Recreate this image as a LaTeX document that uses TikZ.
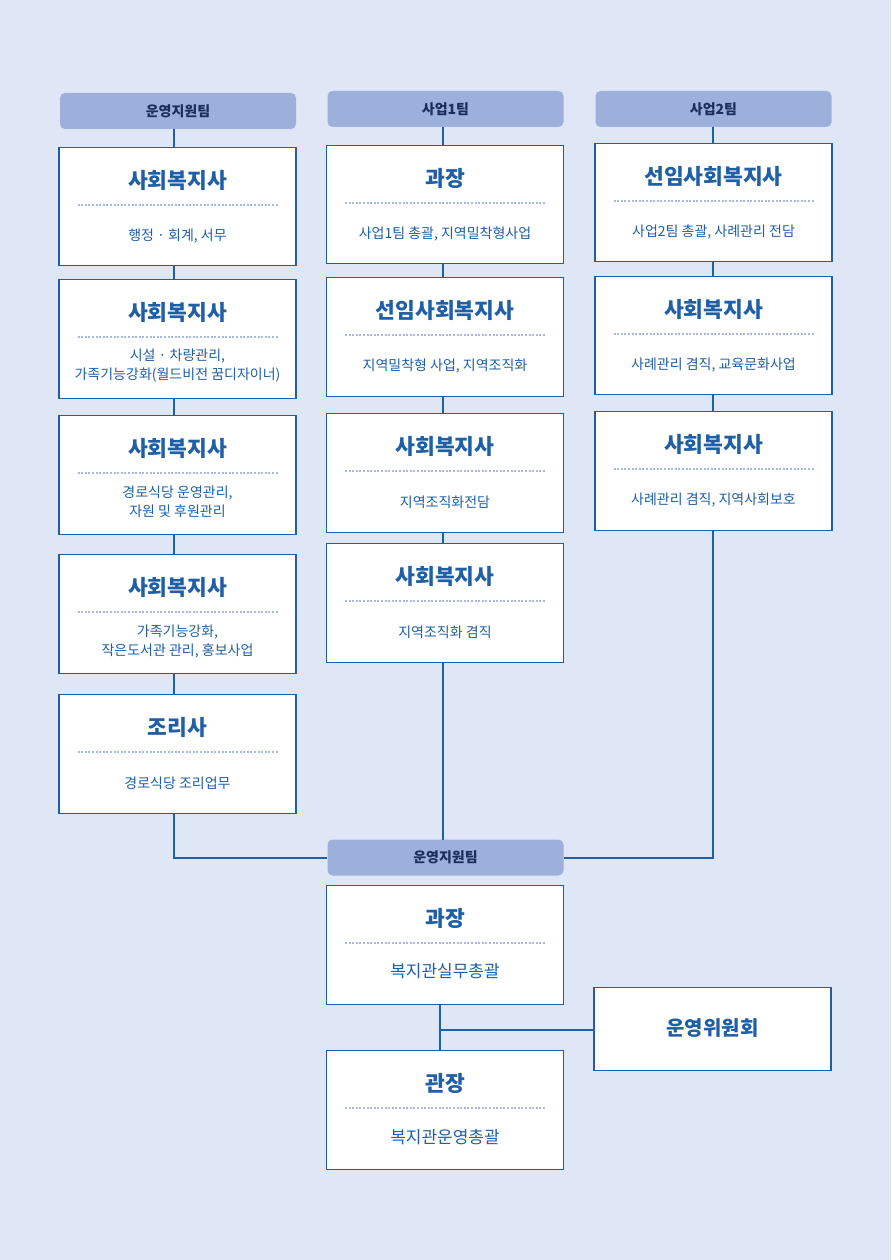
\documentclass[tikz,border=0pt]{standalone}
\usepackage{fontspec}
\setmainfont{Noto Sans CJK KR}
\definecolor{bg}{HTML}{DFE7F7}
\definecolor{hd}{HTML}{9CB0DB}
\definecolor{hdt}{HTML}{1B2F5E}
\definecolor{bl}{HTML}{1F5FA6}
\definecolor{dt}{HTML}{A8B8E0}
\tikzset{
 box/.style={draw=bl,line width=1.2pt,fill=white,minimum width=237pt,minimum height=118pt,inner sep=0,anchor=north},
 hdr/.style={fill=hd,rounded corners=5pt,minimum width=236pt,minimum height=36pt,inner sep=0,font=\bfseries\fontsize{14}{16}\selectfont,text=hdt},
 ttl/.style={text=bl,font=\bfseries\fontsize{21.5}{24}\selectfont},
 txt/.style={text=bl,font=\fontsize{14}{19}\selectfont,align=center},
 dots/.style={dt,line width=2pt,dash pattern=on 2pt off 1.6pt},
 ln/.style={bl,line width=2pt}
}
\newcommand\obox[6]{%
 \node[box,minimum height=#4pt] (#1) at (#2,#3) {};
 \node[ttl] (#1t) at (#2,#3+33) {#5};
 \draw[dots] ([xshift=-100pt,yshift=-58pt]#1.north) -- ([xshift=100pt,yshift=-58pt]#1.north);
 \node[txt] (#1x) at (#2,#3+89) {#6};}
\begin{document}
\begin{tikzpicture}[x=1pt,y=-1pt]
\fill[bg] (0,0) rectangle (891,1260);
\useasboundingbox (0,0) rectangle (891,1260);
% headers
\node[hdr] (h1) at (178,111) {운영지원팀};
\node[hdr] (h2) at (445.5,109) {사업1팀};
\node[hdr] (h3) at (713.5,109) {사업2팀};
\node[hdr] (h4) at (445.5,857.5) {운영지원팀};
% connectors behind boxes
\draw[ln] (174,129) -- (174,857.5) -- (h4.west);
\draw[ln] (443,127) -- (443,840);
\draw[ln] (713,127) -- (713,857.5) -- (h4.east);
\draw[ln] (440,1004) -- (440,1050);
\draw[ln] (440,1030) -- (594,1030);
% left
\obox{l1}{177.5}{147}{118}{사회복지사}{행정 · 회계, 서무}
\obox{l2}{177.5}{279}{119}{사회복지사}{}
\node[txt] at (177.5,366) {시설 · 차량관리,\\가족기능강화(월드비전 꿈디자이너)};
\obox{l3}{177.5}{415}{119}{사회복지사}{}
\node[txt] at (177.5,502) {경로식당 운영관리,\\자원 및 후원관리};
\obox{l4}{177.5}{554}{119}{사회복지사}{}
\node[txt] at (177.5,642) {가족기능강화,\\작은도서관 관리, 홍보사업};
\obox{l5}{177.5}{694}{119}{조리사}{경로식당 조리업무}
% middle
\obox{m1}{445}{145}{118}{과장}{사업1팀 총괄, 지역밀착형사업}
\obox{m2}{445}{277}{119}{선임사회복지사}{지역밀착형 사업, 지역조직화}
\obox{m3}{445}{413}{119}{사회복지사}{지역조직화전담}
\obox{m4}{445}{543}{119}{사회복지사}{지역조직화 겸직}
% right
\obox{r1}{713.5}{143}{118}{선임사회복지사}{사업2팀 총괄, 사례관리 전담}
\obox{r2}{713.5}{276}{118}{사회복지사}{사례관리 겸직, 교육문화사업}
\obox{r3}{713.5}{411}{119}{사회복지사}{사례관리 겸직, 지역사회보호}
% bottom
\obox{b1}{445}{885}{119}{과장}{}
\node[txt,font=\fontsize{17}{19}\selectfont] at (445,971) {복지관실무총괄};
\obox{b2}{445}{1050}{119}{관장}{}
\node[txt,font=\fontsize{17}{19}\selectfont] at (445,1137) {복지관운영총괄};
\node[box,minimum height=83pt] (w) at (712.5,987) {};
\node[ttl,font=\bfseries\fontsize{20}{22}\selectfont] at (712.5,1028.5) {운영위원회};
\end{tikzpicture}
\end{document}
